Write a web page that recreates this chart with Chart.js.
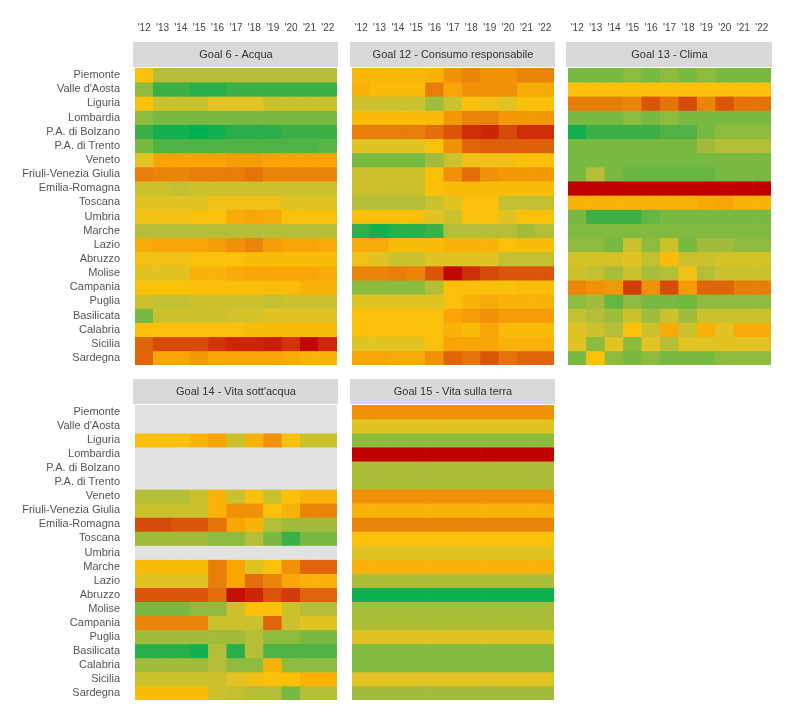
<!DOCTYPE html>
<html>
<head>
<meta charset="utf-8">
<script src="https://cdn.jsdelivr.net/npm/chart.js@4.4.0/dist/chart.umd.min.js"></script>
<style>
  body { margin: 0; background: #fff; }
  canvas { position: absolute; }
</style>
</head>
<body>
<canvas id="g6" width="340" height="368" style="left:0px;top:0px"></canvas>
<canvas id="g12" width="210" height="368" style="left:348px;top:0px"></canvas>
<canvas id="g13" width="211" height="368" style="left:564px;top:0px"></canvas>
<canvas id="g14" width="340" height="335" style="left:0px;top:370px"></canvas>
<canvas id="g15" width="210" height="335" style="left:348px;top:370px"></canvas>
<script>
const regioni = ["Piemonte","Valle d'Aosta","Liguria","Lombardia","P.A. di Bolzano","P.A. di Trento","Veneto",
  "Friuli-Venezia Giulia","Emilia-Romagna","Toscana","Umbria","Marche","Lazio","Abruzzo","Molise","Campania",
  "Puglia","Basilicata","Calabria","Sicilia","Sardegna"];
const anni = ["'12","'13","'14","'15","'16","'17","'18","'19","'20","'21","'22"];

// punteggi 0 (verde) .. 10 (rosso), null = dato mancante
const goal6 = [
  [6,4.5,4.5,4.5,4.5,4.5,4.5,4.5,4.5,4.5,4.5],
  [3.5,1.5,1.5,1,1,1.5,1.5,1.5,1.5,1.5,1.5],
  [6,5,5,5,5.5,5.5,5.5,5,5,5,5],
  [3.5,3,3,3,3,3,3,3,3,3,3],
  [1.5,0.5,0.5,0,0.5,1,1,1,1.5,1.5,1.5],
  [3,2,2,2,2,2,2,2,2,2,2.2],
  [5.5,7,7,7,7,7.2,7.2,7,7,7,7],
  [8,7.8,7.8,8,8,8,8.2,7.8,7.8,7.8,7.8],
  [5,5,4.8,5,5,5,5,5,5,5,5],
  [5.5,5.5,5.5,5.5,5.8,5.8,5.8,5.8,5.5,5.5,5.5],
  [5.8,5.8,5.8,6,6,6.8,7,6.8,6,6,6],
  [4.5,4.5,4.5,4.5,4.5,4.5,4.5,4.5,4.5,4.5,4.5],
  [6.8,7,7,7,7.2,7.5,7.8,7.2,7,7,6.8],
  [5.8,5.8,5.8,6,6,6,6.2,6.2,6.2,6.2,6.2],
  [5.5,5.5,5.5,6.5,6.5,6.8,7,7,7,7,6.8],
  [6,6,6,6,6,6,6,6.2,6.2,6.5,6.5],
  [5,4.8,4.8,5,5,5,5,4.8,5,5,5],
  [3,5,5,5,5,5.2,5.2,5.5,5.5,5.5,5.5],
  [6,6,6,6,6,6,6.2,6.2,6.2,6.2,6.2],
  [8.5,9,9,9,9.3,9.5,9.5,9.6,9.3,9.9,9.5],
  [8.5,7,7,7.3,7,7,7,7,6.8,6.5,6.5]
];
const goal12 = [
  [6.3,6.3,6.3,6.3,6.5,7.5,7.8,7.5,7.5,7.8,7.8],
  [6.5,6.2,6.2,6.2,8,7,7.5,7.5,7.5,6.8,6.8],
  [5,5,5,5,4,5,6,5.8,5.5,6,6],
  [6.2,6.2,6.2,6.2,6.2,7.3,7.8,7.8,7.3,7.3,7.3],
  [8,8,8,8,8.3,8.8,9.4,9.5,9,9.4,9.4],
  [5.5,5.5,5.5,5.5,6,7.5,8.5,8.6,8.6,8.6,8.6],
  [3,3,3,3,4,5,5.8,5.8,5.8,6,6],
  [5,5,5,5,6,7.5,8.3,7.5,7.3,7.3,7.3],
  [5,5,5,5,6,6.2,6.2,6.2,6.2,6.2,6.2],
  [4.5,4.5,4.5,4.5,5,5.5,6,6,4.8,4.8,4.8],
  [6,6,6,6,5.5,5,6,6,5.5,6,6],
  [1.2,0.5,1,1,1.5,4.5,4.5,4.5,4.5,4,4.5],
  [6.8,6.8,6.2,6.2,6.2,6.5,6.5,6.5,6,6.2,6.2],
  [5.8,5.5,5,5,5.5,5.5,5.5,5.5,4.8,4.8,4.8],
  [7.8,7.8,8,7.8,8.8,9.9,9.4,9,8.8,8.8,8.8],
  [3.5,3.5,3.5,3.5,4.5,6,6,6,6,6.2,6.2],
  [5.5,5.5,5.5,5.5,5.5,6,6.5,6.8,6.5,6.5,6.5],
  [6,6,6,6,6,7,7.2,7.5,7.2,7.2,7.2],
  [6,6,6,6,6,6.5,6.2,7,6.2,6.2,6.2],
  [5.5,5.5,5.5,5.5,6,7,7,7,6.5,6.5,6.5],
  [7,7,6.8,6.8,7.5,8.5,8.2,8.8,8.2,8.5,8.5]
];
const goal13 = [
  [3,3,3,3.5,3,3.5,3,3.5,3,3,3],
  [6,6,6,6,6,6,6,6,6,6,6],
  [8,8,8,7.8,8.8,8.2,9,7.8,8.8,8.2,8.2],
  [3,3,3,3.5,3,3.5,3,3,3,3,3],
  [0.5,1.5,1.5,1.5,1.5,2,2,3,3.5,3.5,3.5],
  [3,3,3,3,3,3,3,4,4.5,4.5,4.5],
  [3,3,3,3,3,3,3,3,3,3,3],
  [3,4.5,3,2.5,2.5,2.5,2.5,2.5,3,3,3],
  [10,10,10,10,10,10,10,10,10,10,10],
  [6.5,6.5,6.5,6.5,6.5,6.5,6.5,6.8,7,6.5,6.5],
  [3,1.5,1.5,1.5,2.5,3,3,3,3,3,3],
  [3.2,3.2,3.2,3.2,3.2,3.2,3.2,3.2,3.2,3.2,3.2],
  [3.5,3.5,3,5,3.5,5,3,4,4,3.5,3.5],
  [5.2,5.2,5.2,5.5,4.8,6.2,5,5,5.2,5.2,5.2],
  [5,4.8,4.2,5,4.2,4.5,5.8,4.5,5,5,5],
  [7.8,7.5,7.3,9.2,7.5,9,7.2,8.5,8.5,8,8],
  [3.5,4,2.5,3.5,3,3,2.8,3.5,3.5,3.5,3.5],
  [4.8,4.5,4,5,4,5,4,5,5,5,5],
  [5.5,5,4.5,6,5,6.8,5,6.5,5.5,6.8,6.8],
  [5.5,3.5,5.5,3.5,5.5,4.5,5.5,5.5,5.5,5.5,5.5],
  [3,6,3.5,3,3.5,3,3,3,3.5,3.5,3.5]
];
const vuota = [null,null,null,null,null,null,null,null,null,null,null];
const goal14 = [
  vuota,
  vuota,
  [6,6,6,6.5,7,5,6.5,7.5,6,5,5],
  vuota,
  vuota,
  vuota,
  [4.5,4.5,4.5,5,6.5,5,6,5,6,6.5,6.5],
  [5,5,5,5,6.5,7.5,7.5,6,6.5,7.8,7.8],
  [9,9,8.8,8.8,8.2,7,6.5,4.5,4,4,4],
  [4,4,4,4,3.5,3.5,4.5,3,1.5,3,3],
  vuota,
  [6.2,6.2,6.2,6.2,8,7,5.5,6,7.5,8.5,8.5],
  [5.5,5.5,5.5,5.5,8,7,8.3,7.8,7,6.5,6.5],
  [8.8,8.8,8.8,8.8,8.3,9.8,9.5,8.8,9.2,8.5,8.5],
  [3,3,3,3.5,3.5,5,6,6,5,4.5,4.5],
  [7.8,7.8,7.8,7.8,5,5,5,8.5,5,5.5,5.5],
  [4,4,4,4,4,4,4.5,3.5,3.5,3,3],
  [1,1,1,0.5,4.5,1,4.5,2,2,2,2],
  [4,4,4,4,4.5,3.5,3.5,6.5,3.5,3.5,3.5],
  [5,5,5,5,5,5.5,5.8,6,6,6.5,6.5],
  [6.2,6.2,6.2,6.2,5,4.8,4.5,4.5,3,4.5,4.5]
];
// goal 15: valore costante negli anni
const goal15reg = [7.5,5.5,3.5,10,4.3,4.3,7.5,6.5,7.8,6,5.5,6.5,4.3,0.3,4.2,4.3,5.5,3.3,3.3,5.5,4];
const goal15 = goal15reg.map(v => anni.map(() => v));

// scala colori verde -> giallo -> rosso
const stops = [
  [0, 0,176,80], [1.5, 60,175,70], [3, 120,185,65], [4.5, 180,190,55], [5.5, 225,195,35],
  [6, 250,192,10], [7, 248,165,5], [8, 232,125,10], [9, 215,75,10], [10, 192,0,0]
];
function colore(v){
  if(v===null) return "#e2e2e2";
  for(let i=1;i<stops.length;i++){
    if(v<=stops[i][0]){
      let a=stops[i-1], b=stops[i];
      let t=(v-a[0])/(b[0]-a[0]);
      let c=[1,2,3].map(k=>Math.round(a[k]+(b[k]-a[k])*t));
      return "rgb("+c.join(",")+")";
    }
  }
  return "rgb(192,0,0)";
}

// intestazione grigia sopra la griglia
const intestazione = {
  id: "intestazione",
  afterDraw(chart, args, opts){
    let ctx=chart.ctx, a=chart.chartArea;
    ctx.save();
    ctx.fillStyle="#d9d9d9";
    ctx.fillRect(a.left-2, a.top-26, a.right-a.left+3, 25);
    ctx.fillStyle="#333";
    ctx.font="11px 'Liberation Sans', Arial, sans-serif";
    ctx.textAlign="center";
    ctx.textBaseline="middle";
    ctx.fillText(opts.testo, (a.left+a.right)/2, a.top-13);
    ctx.restore();
  }
};

function crea(id, titolo, valori, mostraRegioni, mostraAnni, padding){
  let datasets = regioni.map((r,i)=>({
    label: r,
    data: anni.map(()=>1),
    backgroundColor: valori[i].map(colore),
    borderWidth: 0,
    barPercentage: 1,
    categoryPercentage: 1,
    stack: "s"
  }));
  let scales = {
    x: {
      position: "top",
      display: mostraAnni,
      grid: { display: false },
      border: { display: false },
      ticks: { padding: 26, maxRotation: 0, autoSkip: false, color: "#444",
        font: { size: 10, family: "'Liberation Sans', Arial, sans-serif" } }
    },
    y: { stacked: true, reverse: true, min: 0, max: regioni.length, display: false }
  };
  if(mostraAnni) scales.x.afterFit = s => { s.height = 68; s.paddingLeft = 0; s.paddingRight = 0; };
  if(mostraRegioni){
    scales.yr = {
      type: "category",
      labels: regioni,
      position: "left",
      offset: true,
      grid: { display: false },
      border: { display: false },
      ticks: { padding: 7, autoSkip: false, color: "#555",
        font: { size: 11, family: "'Liberation Sans', Arial, sans-serif" } },
      afterFit: s => { s.width = 135; s.paddingTop = 0; s.paddingBottom = 0; }
    };
  }
  return new Chart(document.getElementById(id), {
    type: "bar",
    data: { labels: anni, datasets: datasets },
    options: {
      responsive: false,
      animation: false,
      layout: { padding: padding, autoPadding: false },
      scales: scales,
      plugins: {
        legend: { display: false },
        tooltip: { enabled: false },
        intestazione: { testo: titolo }
      }
    },
    plugins: [intestazione]
  });
}

crea("g6", "Goal 6 - Acqua", goal6, true, true, {left:0, right:3, top:0, bottom:3});
crea("g12", "Goal 12 - Consumo responsabile", goal12, false, true, {left:4, right:4, top:0, bottom:3});
crea("g13", "Goal 13 - Clima", goal13, false, true, {left:4, right:4, top:0, bottom:3});
crea("g14", "Goal 14 - Vita sott'acqua", goal14, true, false, {left:0, right:3, top:35, bottom:5});
crea("g15", "Goal 15 - Vita sulla terra", goal15, false, false, {left:4, right:4, top:35, bottom:5});
</script>
</body>
</html>
